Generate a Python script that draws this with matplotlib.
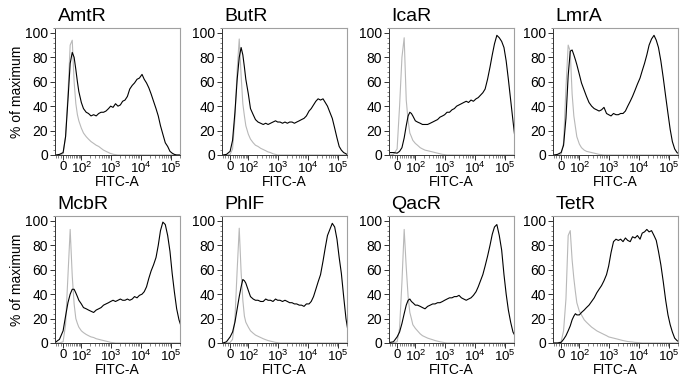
import numpy as np
import matplotlib
matplotlib.use("Agg")
import matplotlib.pyplot as plt
from matplotlib.ticker import FixedLocator, MultipleLocator

plt.rcParams['font.family'] = ['Liberation Sans', 'DejaVu Sans']
plt.rcParams['mathtext.fontset'] = 'custom'
plt.rcParams['mathtext.rm'] = 'Liberation Sans'
plt.rcParams['mathtext.it'] = 'Liberation Sans'

# FITC-A channel positions shared by every histogram
fitc = [-30, -15, 0, 10, 20, 30, 40, 50, 60, 70, 80, 100, 120, 150, 180,
        220, 270, 330, 400, 480, 580, 700, 850, 1000, 1200, 1450, 1750,
        2100, 2500, 3000, 3600, 4300, 5200, 6200, 7500, 9000, 11000, 13000,
        15500, 18500, 22000, 26500, 32000, 38000, 45000, 54000, 65000,
        78000, 93000, 110000, 130000, 155000, 185000, 215000]

names = ['AmtR', 'ButR', 'IcaR', 'LmrA', 'McbR', 'PhlF', 'QacR', 'TetR']

# black = repressor strain, gray = control (% of maximum)
amtr = [0, 0.5, 2, 15, 45, 75, 84, 80, 70, 60, 52, 43, 38, 35, 34,
        32, 33, 32, 34, 35, 35, 36, 38, 40, 39, 42, 40,
        41, 44, 45, 48, 54, 57, 59, 62, 63, 66, 62,
        59, 55, 50, 44, 38, 32, 24, 17, 10,
        7, 3, 1.5, 0.5, 0, 0, 0]
amtr_ctrl = [0, 0, 1, 15, 50, 90, 94, 60, 42, 33, 28, 22, 18, 15, 13,
             11, 9.5, 8, 7, 5.5, 4, 3, 2, 1.2, 0.6, 0.3, 0,
             0, 0, 0, 0, 0, 0, 0, 0, 0, 0, 0,
             0, 0, 0, 0, 0, 0, 0, 0, 0,
             0, 0, 0, 0, 0, 0, 0]

butr = [0, 0.5, 3, 12, 35, 62, 80, 88, 82, 72, 62, 50, 38, 33, 29,
        27, 26, 25, 26, 25, 26, 27, 28, 27, 27, 26, 27,
        26, 27, 27, 26, 27, 28, 29, 30, 32, 36, 38,
        41, 44, 46, 45, 46, 43, 40, 35, 30,
        22, 14, 7, 4, 2, 1, 0]
butr_ctrl = [0, 0, 0.5, 5, 30, 70, 95, 65, 42, 32, 24, 17, 13, 10, 8,
             7, 5.5, 4.5, 3.5, 2.5, 2, 1, 0.5, 0, 0, 0, 0,
             0, 0, 0, 0, 0, 0, 0, 0, 0, 0, 0,
             0, 0, 0, 0, 0, 0, 0, 0, 0,
             0, 0, 0, 0, 0, 0, 0]

icar = [2, 2, 1.5, 3, 6, 14, 24, 32, 35, 34, 32, 28, 27, 26, 25,
        25, 25, 26, 27, 28, 29, 31, 32, 33, 35, 35, 37,
        38, 40, 41, 42, 43, 44, 43, 45, 44, 46, 47,
        49, 51, 54, 62, 72, 82, 91, 98, 96,
        93, 88, 77, 62, 45, 28, 14]
icar_ctrl = [0, 0.5, 5, 40, 80, 96, 45, 28, 18, 15, 12, 9.5, 8, 6, 5,
             4, 3.5, 3, 2.5, 2, 1.5, 1, 0.5, 0.3, 0, 0, 0,
             0, 0, 0, 0, 0, 0, 0, 0, 0, 0, 0,
             0, 0, 0, 0, 0, 0, 0, 0, 0,
             0, 0, 0, 0, 0, 0, 0]

lmra = [0, 0.5, 2, 8, 30, 65, 85, 86, 82, 78, 74, 66, 59, 53, 48,
        43, 40, 38, 37, 36, 37, 39, 34, 33, 32, 34, 33,
        33, 34, 34, 36, 40, 44, 48, 53, 58, 63, 69,
        75, 82, 90, 95, 98, 94, 88, 77, 63,
        48, 34, 21, 11, 5, 2, 1]
lmra_ctrl = [0, 0, 0.5, 10, 55, 90, 85, 50, 32, 23, 15, 9, 6, 4, 3,
             2.5, 2, 1.5, 1, 0.5, 0.3, 0, 0, 0, 0, 0, 0,
             0, 0, 0, 0, 0, 0, 0, 0, 0, 0, 0,
             0, 0, 0, 0, 0, 0, 0, 0, 0,
             0, 0, 0, 0, 0, 0, 0]

mcbr = [1, 3, 10, 22, 33, 40, 44, 44, 41, 38, 35, 32, 29, 28, 27,
        26, 25, 27, 28, 29, 31, 32, 33, 34, 35, 34, 35,
        36, 35, 35, 36, 35, 36, 38, 37, 39, 40, 42,
        46, 53, 59, 64, 70, 80, 92, 99, 97,
        88, 75, 57, 42, 28, 19, 14]
mcbr_ctrl = [0, 0, 1, 15, 55, 93, 55, 32, 20, 16, 13, 10, 8.5, 7, 6,
             5, 4.5, 3.5, 3, 2.5, 2, 1.5, 1, 0.5, 0.3, 0, 0,
             0, 0, 0, 0, 0, 0, 0, 0, 0, 0, 0,
             0, 0, 0, 0, 0, 0, 0, 0, 0,
             0, 0, 0, 0, 0, 0, 0]

phlf = [0, 1, 5, 9, 17, 28, 38, 46, 52, 51, 49, 43, 38, 36, 35,
        35, 34, 34, 36, 35, 35, 34, 36, 35, 35, 34, 35,
        34, 33, 33, 32, 32, 31, 31, 30, 32, 32, 34,
        38, 44, 50, 56, 67, 78, 88, 93, 98,
        95, 85, 70, 57, 38, 20, 10]
phlf_ctrl = [0, 0, 0.5, 3, 20, 60, 94, 58, 35, 22, 17, 13, 10, 8, 6.5,
             5.5, 4.5, 3.5, 2.7, 2, 1.5, 1, 0.5, 0.3, 0, 0, 0,
             0, 0, 0, 0, 0, 0, 0, 0, 0, 0, 0,
             0, 0, 0, 0, 0, 0, 0, 0, 0,
             0, 0, 0, 0, 0, 0, 0]

qacr = [0.5, 1, 5, 9, 16, 24, 31, 35, 36, 34, 33, 31, 31, 30, 29,
        28, 30, 31, 32, 32, 33, 33, 34, 35, 36, 37, 37,
        38, 38, 39, 37, 36, 35, 36, 37, 39, 42, 46,
        51, 56, 63, 71, 80, 89, 95, 97, 88,
        76, 56, 40, 27, 17, 9, 6]
qacr_ctrl = [0, 0, 1, 12, 50, 93, 62, 38, 25, 20, 15, 12, 10, 7.5, 6,
             5, 4, 3.3, 2.7, 2, 1.5, 1, 0.6, 0.3, 0, 0, 0,
             0, 0, 0, 0, 0, 0, 0, 0, 0, 0, 0,
             0, 0, 0, 0, 0, 0, 0, 0, 0,
             0, 0, 0, 0, 0, 0, 0]

tetr = [0, 0, 0.5, 3, 6, 10, 14, 19, 22, 24, 23, 23, 25, 27, 29,
        31, 34, 37, 41, 44, 47, 51, 56, 63, 74, 83, 85,
        84, 85, 83, 86, 84, 83, 87, 86, 88, 85, 90,
        91, 93, 91, 92, 88, 84, 75, 64, 50,
        35, 23, 15, 9, 4, 2, 1]
tetr_ctrl = [0, 0, 1, 10, 36, 88, 92, 68, 53, 42, 33, 26, 23, 19, 17,
             15, 13, 11.5, 10, 9, 8, 7, 6, 5, 4.5, 4, 3.5,
             3, 2.5, 2, 1.6, 1.2, 1, 0.8, 0.5, 0.4, 0.2, 0,
             0, 0, 0, 0, 0, 0, 0, 0, 0,
             0, 0, 0, 0, 0, 0, 0]

samples = [amtr, butr, icar, lmra, mcbr, phlf, qacr, tetr]
controls = [amtr_ctrl, butr_ctrl, icar_ctrl, lmra_ctrl,
            mcbr_ctrl, phlf_ctrl, qacr_ctrl, tetr_ctrl]

# biexponential-like display (asinh), one unit = one decade
W = 53.0
def fwd(x):
    return np.arcsinh(np.asarray(x, dtype=float) / W) / np.log(10)
def inv(y):
    return W * np.sinh(np.asarray(y, dtype=float) * np.log(10))

major_x = [0, 100, 1000, 10000, 100000]
major_lab = ['0', r'$\mathregular{10^2}$', r'$\mathregular{10^3}$',
             r'$\mathregular{10^4}$', r'$\mathregular{10^5}$']
minor_x = [-30, -20, -10] + [10 * k for k in range(1, 10)] + \
          [100 * k for k in range(2, 10)] + [1000 * k for k in range(2, 10)] + \
          [10000 * k for k in range(2, 10)] + [200000]

fig = plt.figure(figsize=(6.8, 3.79), dpi=100)
lefts = [55, 222, 389, 553]
tops = [28, 216]
pw, ph = 125, 127

for i in range(8):
    r, c = divmod(i, 4)
    ax = fig.add_axes([lefts[c] / 680, 1 - (tops[r] + ph) / 379, pw / 680, ph / 379])
    ax.set_xscale('function', functions=(fwd, inv))
    ax.plot(fitc, controls[i], color='#b8b8b8', lw=0.8)
    ax.plot(fitc, samples[i], color='black', lw=0.8)
    ax.set_xlim(-35, 200000)
    ax.set_ylim(0, 104)

    ax.xaxis.set_major_locator(FixedLocator(major_x))
    ax.set_xticklabels(major_lab)
    ax.xaxis.set_minor_locator(FixedLocator(minor_x))
    ax.yaxis.set_major_locator(MultipleLocator(20))
    ax.yaxis.set_minor_locator(MultipleLocator(4))
    ax.tick_params(which='major', length=3.5, width=0.7, labelsize=10, pad=1.5, color='#333333')
    ax.tick_params(axis='x', which='major', labelsize=9.5, pad=0.5)
    ax.tick_params(which='minor', length=1.8, width=0.5, color='#555555')

    for s in ['top', 'right']:
        ax.spines[s].set_color('#a0a0a0')
        ax.spines[s].set_linewidth(0.8)
    for s in ['left', 'bottom']:
        ax.spines[s].set_color('#333333')
        ax.spines[s].set_linewidth(0.7)

    ax.set_xlabel('FITC-A', fontsize=10, labelpad=-0.5)
    if c == 0:
        ax.set_ylabel('% of maximum', fontsize=10, labelpad=1)
    ax.text(0.02, 1.025, names[i], transform=ax.transAxes, fontsize=14,
            ha='left', va='bottom')

fig.savefig('out.png', dpi=100)
